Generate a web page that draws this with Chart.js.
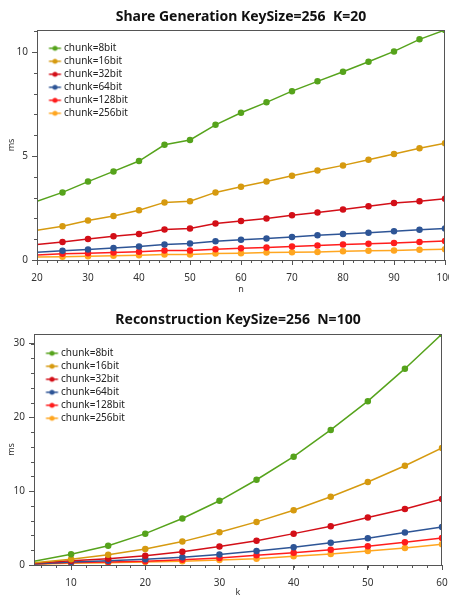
<!DOCTYPE html>
<html>
<head>
<meta charset="utf-8">
<script src="https://cdn.jsdelivr.net/npm/chart.js@4/dist/chart.umd.min.js"></script>
<style>
  html, body { margin: 0; padding: 0; background: #fff; overflow: hidden; }
  .box { position: absolute; left: 0; width: 449px; height: 300px; }
</style>
</head>
<body>
<div class="box" style="top:0"><canvas id="shareChart"></canvas></div>
<div class="box" style="top:300px"><canvas id="reconChart"></canvas></div>
<script>
// share generation, K=20
const nValues = [20, 25, 30, 35, 40, 45, 50, 55, 60, 65, 70, 75, 80, 85, 90, 95, 100]
const share8 = [2.82, 3.25, 3.77, 4.26, 4.76, 5.54, 5.77, 6.5, 7.08, 7.58, 8.12, 8.59, 9.05, 9.53, 10.03, 10.61, 11.06]
const share16 = [1.43, 1.62, 1.9, 2.12, 2.39, 2.77, 2.83, 3.25, 3.52, 3.78, 4.05, 4.3, 4.55, 4.82, 5.1, 5.37, 5.61]
const share32 = [0.75, 0.87, 1.01, 1.14, 1.25, 1.47, 1.51, 1.75, 1.87, 2.0, 2.15, 2.28, 2.43, 2.58, 2.74, 2.82, 2.94]
const share64 = [0.37, 0.45, 0.51, 0.58, 0.65, 0.75, 0.79, 0.9, 0.97, 1.03, 1.11, 1.19, 1.25, 1.31, 1.38, 1.46, 1.51]
const share128 = [0.24, 0.3, 0.33, 0.36, 0.4, 0.46, 0.46, 0.52, 0.56, 0.6, 0.65, 0.7, 0.75, 0.78, 0.82, 0.87, 0.91]
const share256 = [0.14, 0.16, 0.18, 0.21, 0.23, 0.27, 0.27, 0.31, 0.33, 0.36, 0.37, 0.39, 0.42, 0.44, 0.46, 0.49, 0.52]

// reconstruction, N=100
const kValues = [5, 10, 15, 20, 25, 30, 35, 40, 45, 50, 55, 60]
const recon8 = [0.5, 1.45, 2.62, 4.25, 6.3, 8.7, 11.55, 14.67, 18.3, 22.2, 26.6, 31.3]
const recon16 = [0.3, 0.77, 1.38, 2.17, 3.17, 4.44, 5.84, 7.43, 9.24, 11.24, 13.45, 15.85]
const recon32 = [0.22, 0.58, 0.86, 1.24, 1.81, 2.5, 3.3, 4.25, 5.25, 6.43, 7.6, 8.93]
const recon64 = [0.15, 0.42, 0.58, 0.77, 1.04, 1.43, 1.9, 2.4, 3.03, 3.62, 4.39, 5.14]
const recon128 = [0.12, 0.34, 0.42, 0.5, 0.7, 0.95, 1.31, 1.67, 2.08, 2.54, 3.08, 3.65]
const recon256 = [0.1, 0.25, 0.3, 0.4, 0.5, 0.68, 0.86, 1.18, 1.49, 1.9, 2.31, 2.8]

const seriesNames = ['chunk=8bit', 'chunk=16bit', 'chunk=32bit', 'chunk=64bit', 'chunk=128bit', 'chunk=256bit']
const seriesColors = ['#56a31c', '#d69a10', '#d30f18', '#2e5596', '#ff1d1d', '#ffa620']

const FONT = "'Noto Sans', 'Open Sans', sans-serif"
const AXIS = '#555'

// little "line with a dot" picture for each legend entry
function legendMarker(color) {
    const c = document.createElement('canvas')
    c.width = 26
    c.height = 8
    const g = c.getContext('2d')
    g.strokeStyle = color
    g.lineWidth = 1.5
    g.beginPath()
    g.moveTo(12.5, 4)
    g.lineTo(24.5, 4)
    g.stroke()
    g.fillStyle = color
    g.beginPath()
    g.arc(18.5, 4, 2.5, 0, Math.PI * 2)
    g.fill()
    return c
}
const markers = seriesColors.map(legendMarker)

// put the legend inside the plot, top left
const legendInside = {
    id: 'legendInside',
    beforeDraw(chart) {
        const lg = chart.legend
        const a = chart.chartArea
        const w = lg.width, h = lg.height
        lg.left = a.left
        lg.top = a.top
        lg.right = a.left + w
        lg.bottom = a.top + h
    }
}

// frame round the plot + minor ticks
const frameAndMinor = {
    id: 'frameAndMinor',
    afterDraw(chart, args, opts) {
        const { ctx, chartArea: a, scales: { x, y } } = chart
        ctx.save()
        ctx.strokeStyle = AXIS
        ctx.lineWidth = 1
        ctx.strokeRect(Math.round(a.left) + 0.5, Math.round(a.top) + 0.5,
            Math.round(a.right - a.left) - 1, Math.round(a.bottom - a.top))
        ctx.beginPath()
        for (let v = Math.ceil(x.min / opts.xMinor) * opts.xMinor; v <= x.max + 1e-9; v += opts.xMinor) {
            const px = Math.round(x.getPixelForValue(v)) + 0.5
            ctx.moveTo(px, a.bottom)
            ctx.lineTo(px, a.bottom + 3)
        }
        for (let v = 0; v <= y.max + 1e-9; v += opts.yMinor) {
            const py = Math.round(y.getPixelForValue(v)) + 0.5
            ctx.moveTo(a.left, py)
            ctx.lineTo(a.left - 3, py)
        }
        ctx.stroke()
        ctx.restore()
    }
}

function makeChart(id, cfg) {
    const datasets = cfg.series.map((vals, i) => ({
        label: seriesNames[i],
        data: vals.map((v, j) => ({ x: cfg.xs[j], y: v })),
        borderColor: seriesColors[i],
        backgroundColor: seriesColors[i],
        borderWidth: 1.5,
        // the first point sits on the left axis and has no marker in the original
        pointRadius: (c) => c.dataIndex === 0 ? 0 : 2.5,
        pointHoverRadius: 2.5,
        tension: 0,
        clip: 0
    }))
    return new Chart(document.getElementById(id), {
        type: 'line',
        data: { datasets: datasets },
        options: {
            responsive: true,
            maintainAspectRatio: false,
            animation: false,
            layout: { padding: { right: cfg.padRight } },
            scales: {
                x: {
                    type: 'linear',
                    min: cfg.xMin,
                    max: cfg.xMax,
                    afterFit: (s) => { s.height = cfg.xAxisHeight; s.paddingLeft = 0; s.paddingRight = 0 },
                    grid: { drawOnChartArea: false, tickLength: 5, color: AXIS },
                    border: { color: AXIS },
                    ticks: {
                        stepSize: 10, includeBounds: false, maxRotation: 0, padding: 7,
                        color: '#333', font: { family: FONT, size: 10 }
                    },
                    title: {
                        display: true, text: cfg.xTitle, color: '#333',
                        font: { family: FONT, size: 9 }, padding: { top: 0, bottom: cfg.xTitlePad }
                    }
                },
                y: {
                    min: 0,
                    max: Math.max(...cfg.series[0]),
                    afterFit: (s) => { s.width = cfg.yAxisWidth; s.paddingTop = 0; s.paddingBottom = 0 },
                    grid: { drawOnChartArea: false, tickLength: 5, color: AXIS },
                    border: { color: AXIS },
                    ticks: {
                        stepSize: cfg.yStep, includeBounds: false, padding: 4,
                        color: '#333', font: { family: FONT, size: 10 }
                    },
                    title: {
                        display: true, text: 'ms', color: '#333',
                        font: { family: FONT, size: 9 }, padding: { top: 6, bottom: 0 }
                    }
                }
            },
            plugins: {
                title: {
                    display: true,
                    text: cfg.title,
                    fullSize: false,
                    color: '#111',
                    font: { family: FONT, size: 14, weight: 'bold' },
                    padding: cfg.titlePad
                },
                legend: {
                    position: 'chartArea',
                    align: 'start',
                    title: { display: true, text: '', font: { size: 8 }, padding: { top: cfg.legendTop, bottom: 0 } },
                    labels: {
                        usePointStyle: true,
                        pointStyleWidth: 19,
                        padding: 3,
                        color: '#222',
                        font: { family: FONT, size: 10 },
                        generateLabels: (chart) => Chart.defaults.plugins.legend.labels.generateLabels(chart)
                            .map(l => Object.assign(l, { pointStyle: markers[l.datasetIndex] }))
                    }
                },
                tooltip: { enabled: false },
                frameAndMinor: { xMinor: 2, yMinor: cfg.yMinor }
            }
        },
        plugins: [legendInside, frameAndMinor]
    })
}

makeChart('shareChart', {
    title: 'Share Generation KeySize=256  K=20',
    xTitle: 'n',
    xs: nValues,
    series: [share8, share16, share32, share64, share128, share256],
    xMin: 20, xMax: 100,
    yStep: 5, yMinor: 1,
    yAxisWidth: 37, xAxisHeight: 40, xTitlePad: 5,
    padRight: 4,
    titlePad: { top: 9, bottom: 4.2 },
    legendTop: 0.7
})

makeChart('reconChart', {
    title: 'Reconstruction KeySize=256  N=100',
    xTitle: 'k',
    xs: kValues,
    series: [recon8, recon16, recon32, recon64, recon128, recon256],
    xMin: 5, xMax: 60,
    yStep: 10, yMinor: 2,
    yAxisWidth: 34, xAxisHeight: 35, xTitlePad: 2,
    padRight: 7,
    titlePad: { top: 11.6, bottom: 5.6 },
    legendTop: 1.7
})
</script>
</body>
</html>
